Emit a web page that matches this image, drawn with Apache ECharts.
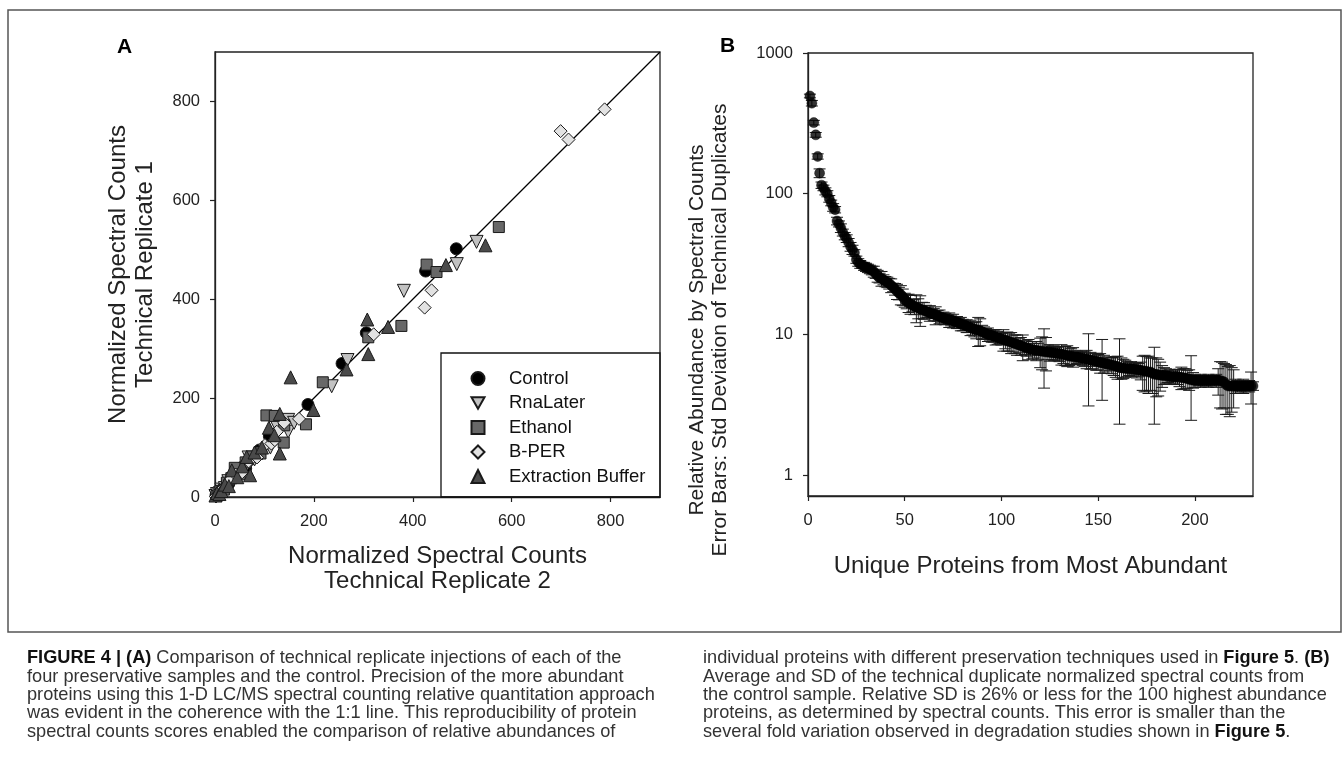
<!DOCTYPE html>
<html><head><meta charset="utf-8">
<script src="https://cdn.jsdelivr.net/npm/echarts@6/dist/echarts.min.js"></script>
<style>html,body{margin:0;padding:0;background:#fff}#c{width:1343px;height:777px}</style>
</head><body><div id="c"></div>
<script>
// ---------- Panel A data: [Technical Replicate 2, Technical Replicate 1] ----------
const controlData = [[2,3],[5,4],[8,10],[12,9],[16,14],[22,25],[28,27],[35,38],[45,50],[55,60],[62,58],[70,75],[90,95],[110,123],[188,187],[257,270],[306,332],[426,457],[488,502]];
const rnaLaterData = [[1,2],[4,6],[9,7],[13,15],[20,18],[27,32],[38,36],[48,52],[60,56],[68,80],[80,76],[95,88],[112,100],[125,142],[148,132],[148,156],[160,150],[236,224],[268,277],[382,417],[489,471],[529,516]];
const ethanolData = [[3,2],[7,9],[11,12],[18,15],[24,29],[33,38],[40,59],[50,46],[62,70],[75,82],[92,88],[104,165],[121,164],[139,110],[140,145],[184,147],[218,232],[310,323],[377,346],[428,470],[448,455],[574,546]];
const bperData = [[2,1],[6,5],[10,13],[15,16],[22,20],[30,34],[42,45],[55,50],[68,72],[85,80],[101,105],[114,108],[121,115],[125,132],[140,150],[170,158],[321,329],[424,383],[438,418],[699,740],[715,723],[788,784]];
const extractionData = [[1,3],[4,8],[9,6],[13,12],[20,25],[28,22],[34,54],[45,40],[55,62],[64,81],[71,44],[80,90],[95,100],[109,140],[120,125],[131,88],[131,168],[153,242],[199,176],[266,258],[308,359],[310,289],[350,344],[467,469],[547,509]];
const seriesNames = ['Control','RnaLater','Ethanol','B-PER','Extraction Buffer'];
const unityLine = [[0,0],[900,900]];
const ticksA = [0,200,400,600,800];

// ---------- Panel B data: mean and SD per protein rank (1..230) ----------
const proteinMean = [
 495,440,320,262,184,140,115,110,104,100,
 92,86,80,77,64,61,57,53,50,48,
 45,42,40,38,34,32.5,31.5,31,30.5,30,
 29.5,29,28.5,28,27,26,25.2,25,24.5,23.8,
 23.5,23,22.3,21.6,21,20.2,19.6,19.2,18.5,17.6,
 17.2,16.8,16.4,16.1,15.8,15.6,15.4,15.1,14.9,14.8,
 14.6,14.4,14.2,14,13.9,13.7,13.6,13.4,13.2,13.1,
 12.9,12.8,12.7,12.6,12.5,12.3,12.2,12.0,11.9,11.7,
 11.6,11.5,11.3,11.2,11.0,10.9,10.8,10.7,10.6,10.4,
 10.3,10.1,10.0,9.9,9.8,9.7,9.6,9.5,9.4,9.3,
 9.2,9.1,9.0,8.9,8.8,8.7,8.6,8.5,8.4,8.3,
 8.2,8.1,8.0,7.9,7.85,7.8,7.7,7.7,7.65,7.6,
 7.6,7.55,7.5,7.5,7.45,7.4,7.4,7.35,7.3,7.3,
 7.25,7.2,7.1,7.1,7.0,7.0,6.95,6.9,6.9,6.85,
 6.8,6.8,6.7,6.7,6.6,6.55,6.5,6.5,6.45,6.4,
 6.3,6.3,6.2,6.2,6.1,6.1,6.05,6.0,5.95,5.9,
 5.8,5.8,5.75,5.75,5.7,5.7,5.7,5.65,5.65,5.6,
 5.6,5.55,5.5,5.5,5.45,5.4,5.4,5.3,5.2,5.2,
 5.15,5.15,5.1,5.1,5.1,5.05,5.05,5.0,5.0,5.0,
 5.0,4.95,4.95,4.9,4.9,4.85,4.8,4.75,4.75,4.7,
 4.7,4.7,4.7,4.7,4.7,4.7,4.7,4.7,4.7,4.7,
 4.7,4.7,4.7,4.65,4.6,4.4,4.3,4.3,4.3,4.3,
 4.3,4.3,4.3,4.3,4.3,4.3,4.3,4.3,4.3,4.3
];
const proteinSD = [
 15,20,12,10,8,10,6,5,6,5,
 5,4,5,4,4,3,4,3,3,3,
 3,3,3,2,2,2,2,1.5,2,2,
 2,2,2,2.5,2,2.5,2,3,2,2,
 2,2,2.5,1.5,2,2.5,2,3,2.5,2,
 2,2.5,2.5,1.5,2,3.5,2.5,3.7,2,2,
 1.5,1.2,1.8,1.0,1.4,2.0,1.2,1.5,1.0,1.3,
 1.2,1.0,1.5,1.1,1.4,0.9,1.2,1.0,1.3,1.1,
 0.9,1.2,1.0,1.4,1.1,1.3,1.5,2.5,2.3,1.2,
 1.0,0.9,1.1,0.8,1.0,0.9,1.2,1.0,0.8,0.9,
 1.6,1.2,1.4,1.3,1.5,1.2,1.3,1.4,1.0,1.2,
 1.7,0.9,1.0,1.3,0.8,1.1,0.9,1.2,1.0,1.8,
 2.0,3.4,2.0,0.9,1.0,0.8,0.9,0.7,0.8,0.9,
 1.2,1.0,1.1,1.2,1.0,0.9,1.1,0.8,0.7,0.6,
 0.7,0.8,0.8,1.0,3.5,0.9,0.8,0.6,0.9,0.8,
 1.0,2.9,0.9,0.7,0.8,0.6,0.8,0.9,1.0,1.1,
 3.5,1.0,0.9,0.8,0.7,0.6,0.7,0.5,0.6,0.7,
 0.6,0.8,1.5,1.6,1.5,1.6,1.4,1.5,2.9,1.6,
 1.5,1.2,0.9,0.7,0.6,0.5,0.6,0.4,0.5,0.6,
 0.6,0.7,0.9,0.8,0.8,0.7,0.8,2.3,0.6,0.5,
 0.3,0.4,0.5,0.4,0.3,0.4,0.5,0.4,0.3,0.4,
 0.5,1.0,1.7,1.7,1.6,1.7,1.6,1.7,1.5,1.3,
 0.5,0.4,0.3,0.4,0.5,0.4,0.3,0.4,1.1,0.3
];
const ticksBx = [0,50,100,150,200];
const ticksBy = [1,10,100,1000];

// ---------- Caption text ----------
const captionLeft = [
 '{b|FIGURE 4 | (A)} Comparison of technical replicate injections of each of the',
 'four preservative samples and the control. Precision of the more abundant',
 'proteins using this 1-D LC/MS spectral counting relative quantitation approach',
 'was evident in the coherence with the 1:1 line. This reproducibility of protein',
 'spectral counts scores enabled the comparison of relative abundances of'
];
const captionRight = [
 'individual proteins with different preservation techniques used in {b|Figure 5}. {b|(B)}',
 'Average and SD of the technical duplicate normalized spectral counts from',
 'the control sample. Relative SD is 26% or less for the 100 highest abundance',
 'proteins, as determined by spectral counts. This error is smaller than the',
 'several fold variation observed in degradation studies shown in {b|Figure 5}.'
];

// ---------- Build ----------
const FONT = '"Liberation Sans", Arial, Helvetica, sans-serif';
const CAPFONT = '"Liberation Sans", Arial, Helvetica, sans-serif';
const meanData = proteinMean.map((v, i) => [i + 1, v]);
const errData = proteinMean.map((v, i) => [i + 1, v - proteinSD[i], v + proteinSD[i]]);

function scatterA(name, data, symbol, color, size, rotate) {
  return {
    type: 'scatter', name, data, symbol, symbolSize: size, symbolRotate: rotate || 0,
    xAxisIndex: 0, yAxisIndex: 0, z: 3,
    itemStyle: { color, borderColor: '#1a1a1a', borderWidth: 1, opacity: 1 }
  };
}

const axisCommon = {
  axisLine: { show: true, lineStyle: { color: '#222', width: 1.3 } },
  axisTick: { show: true, inside: false, length: 5, lineStyle: { color: '#222', width: 1.2 } },
  axisLabel: { fontSize: 16.5, color: '#222', fontFamily: FONT },
  splitLine: { show: false },
  nameTextStyle: { fontSize: 24, color: '#222', fontFamily: FONT, lineHeight: 25 }
};

const legendItems = seriesNames.map(n => n === 'RnaLater'
  ? { name: n, icon: 'path://M0,0L12,0L6,10.4Z' } : { name: n });

const chart = echarts.init(document.getElementById('c'), null, { renderer: 'canvas' });
chart.setOption({
  backgroundColor: '#fff',
  animation: false,
  grid: [
    { left: 215, top: 52, width: 445, height: 445, show: true, borderColor: '#222', borderWidth: 1.3, backgroundColor: 'transparent' },
    { left: 808, top: 53, width: 445, height: 443, show: true, borderColor: '#222', borderWidth: 1.3, backgroundColor: 'transparent' }
  ],
  xAxis: [
    Object.assign({}, axisCommon, {
      type: 'value', gridIndex: 0, min: 0, max: 900,
      axisTick: Object.assign({}, axisCommon.axisTick, { customValues: ticksA }),
      axisLabel: Object.assign({}, axisCommon.axisLabel, { customValues: ticksA, margin: 16 }),
      name: 'Normalized Spectral Counts\nTechnical Replicate 2', nameLocation: 'middle', nameGap: 47
    }),
    Object.assign({}, axisCommon, {
      type: 'value', gridIndex: 1, min: 0, max: 230,
      axisTick: Object.assign({}, axisCommon.axisTick, { customValues: ticksBx }),
      axisLabel: Object.assign({}, axisCommon.axisLabel, { customValues: ticksBx, margin: 16 }),
      name: 'Unique Proteins from Most Abundant', nameLocation: 'middle', nameGap: 58
    })
  ],
  yAxis: [
    Object.assign({}, axisCommon, {
      type: 'value', gridIndex: 0, min: 0, max: 900,
      axisTick: Object.assign({}, axisCommon.axisTick, { customValues: ticksA }),
      axisLabel: Object.assign({}, axisCommon.axisLabel, { customValues: ticksA, margin: 15 }),
      name: 'Normalized Spectral Counts\nTechnical Replicate 1', nameLocation: 'middle', nameGap: 56,
      nameTextStyle: { fontSize: 24, color: '#222', fontFamily: FONT, lineHeight: 27 }
    }),
    Object.assign({}, axisCommon, {
      type: 'log', logBase: 10, gridIndex: 1, min: 0.71, max: 1000,
      axisTick: Object.assign({}, axisCommon.axisTick, { customValues: ticksBy }),
      axisLabel: Object.assign({}, axisCommon.axisLabel, { customValues: ticksBy, margin: 15,
        formatter: v => String(Math.round(v)) })
    })
  ],
  legend: {
    data: legendItems, orient: 'vertical', left: 470.5, top: 369, padding: 0,
    itemWidth: 13, itemHeight: 13, itemGap: 5.5, selectedMode: false,
    textStyle: { fontSize: 18.5, color: '#111', fontFamily: FONT, padding: [0, 0, 0, 19.5] }
  },
  series: [
    { type: 'line', data: unityLine, xAxisIndex: 0, yAxisIndex: 0, symbol: 'none', silent: true, z: 2,
      lineStyle: { color: '#000', width: 1.2 } },
    scatterA('Control', controlData, 'circle', '#000000', 12),
    scatterA('RnaLater', rnaLaterData, 'triangle', '#c2c2c2', 13, 180),
    scatterA('Ethanol', ethanolData, 'rect', '#686868', 11),
    scatterA('B-PER', bperData, 'diamond', '#e2e2e2', 13),
    scatterA('Extraction Buffer', extractionData, 'triangle', '#4a4a4a', 13),
    {
      type: 'custom', name: 'sd', xAxisIndex: 1, yAxisIndex: 1, data: errData, z: 2, silent: true,
      encode: { x: 0, y: [1, 2] },
      renderItem: function (params, api) {
        const x = api.value(0);
        const hi = api.coord([x, api.value(2)]);
        const lo = api.coord([x, api.value(1)]);
        const w = 6;
        const st = { stroke: '#1a1a1a', lineWidth: 1 };
        return { type: 'group', children: [
          { type: 'line', shape: { x1: hi[0], y1: hi[1], x2: lo[0], y2: lo[1] }, style: st },
          { type: 'line', shape: { x1: hi[0] - w, y1: hi[1], x2: hi[0] + w, y2: hi[1] }, style: st },
          { type: 'line', shape: { x1: lo[0] - w, y1: lo[1], x2: lo[0] + w, y2: lo[1] }, style: st }
        ] };
      }
    },
    { type: 'scatter', name: 'mean', data: meanData, xAxisIndex: 1, yAxisIndex: 1, symbol: 'circle',
      symbolSize: 10, z: 3, itemStyle: { color: '#000', borderColor: '#000', borderWidth: 0.5 } }
  ],
  graphic: [
    { type: 'rect', shape: { x: 8, y: 10, width: 1333, height: 622 }, style: { fill: 'none', stroke: '#555', lineWidth: 1.5 }, silent: true, z: 0 },
    { type: 'rect', shape: { x: 441, y: 353, width: 219, height: 144 }, style: { fill: 'none', stroke: '#111', lineWidth: 1.3 }, silent: true, z: 5 },
    { type: 'text', x: 117, y: 37, style: { text: 'A', fontSize: 21, fontWeight: 'bold', fontFamily: FONT, fill: '#000' } },
    { type: 'text', x: 720, y: 36, style: { text: 'B', fontSize: 21, fontWeight: 'bold', fontFamily: FONT, fill: '#000' } },
    { type: 'text', x: 709, y: 330, rotation: Math.PI / 2,
      style: { text: 'Relative Abundance by Spectral Counts\nError Bars: Std Deviation of Technical Duplicates',
        align: 'center', verticalAlign: 'middle', fontSize: 21, lineHeight: 23, fontFamily: FONT, fill: '#222' } },
    { type: 'text', x: 27, y: 649, style: { text: captionLeft.join('\n'), fontSize: 18.2, lineHeight: 18.4, fontFamily: CAPFONT, fill: '#333',
        rich: { b: { fontWeight: 'bold', fontSize: 18.2, lineHeight: 18.4, fontFamily: CAPFONT, fill: '#111' } } } },
    { type: 'text', x: 703, y: 649, style: { text: captionRight.join('\n'), fontSize: 18.2, lineHeight: 18.4, fontFamily: CAPFONT, fill: '#333',
        rich: { b: { fontWeight: 'bold', fontSize: 18.2, lineHeight: 18.4, fontFamily: CAPFONT, fill: '#111' } } } }
  ]
});
</script></body></html>
